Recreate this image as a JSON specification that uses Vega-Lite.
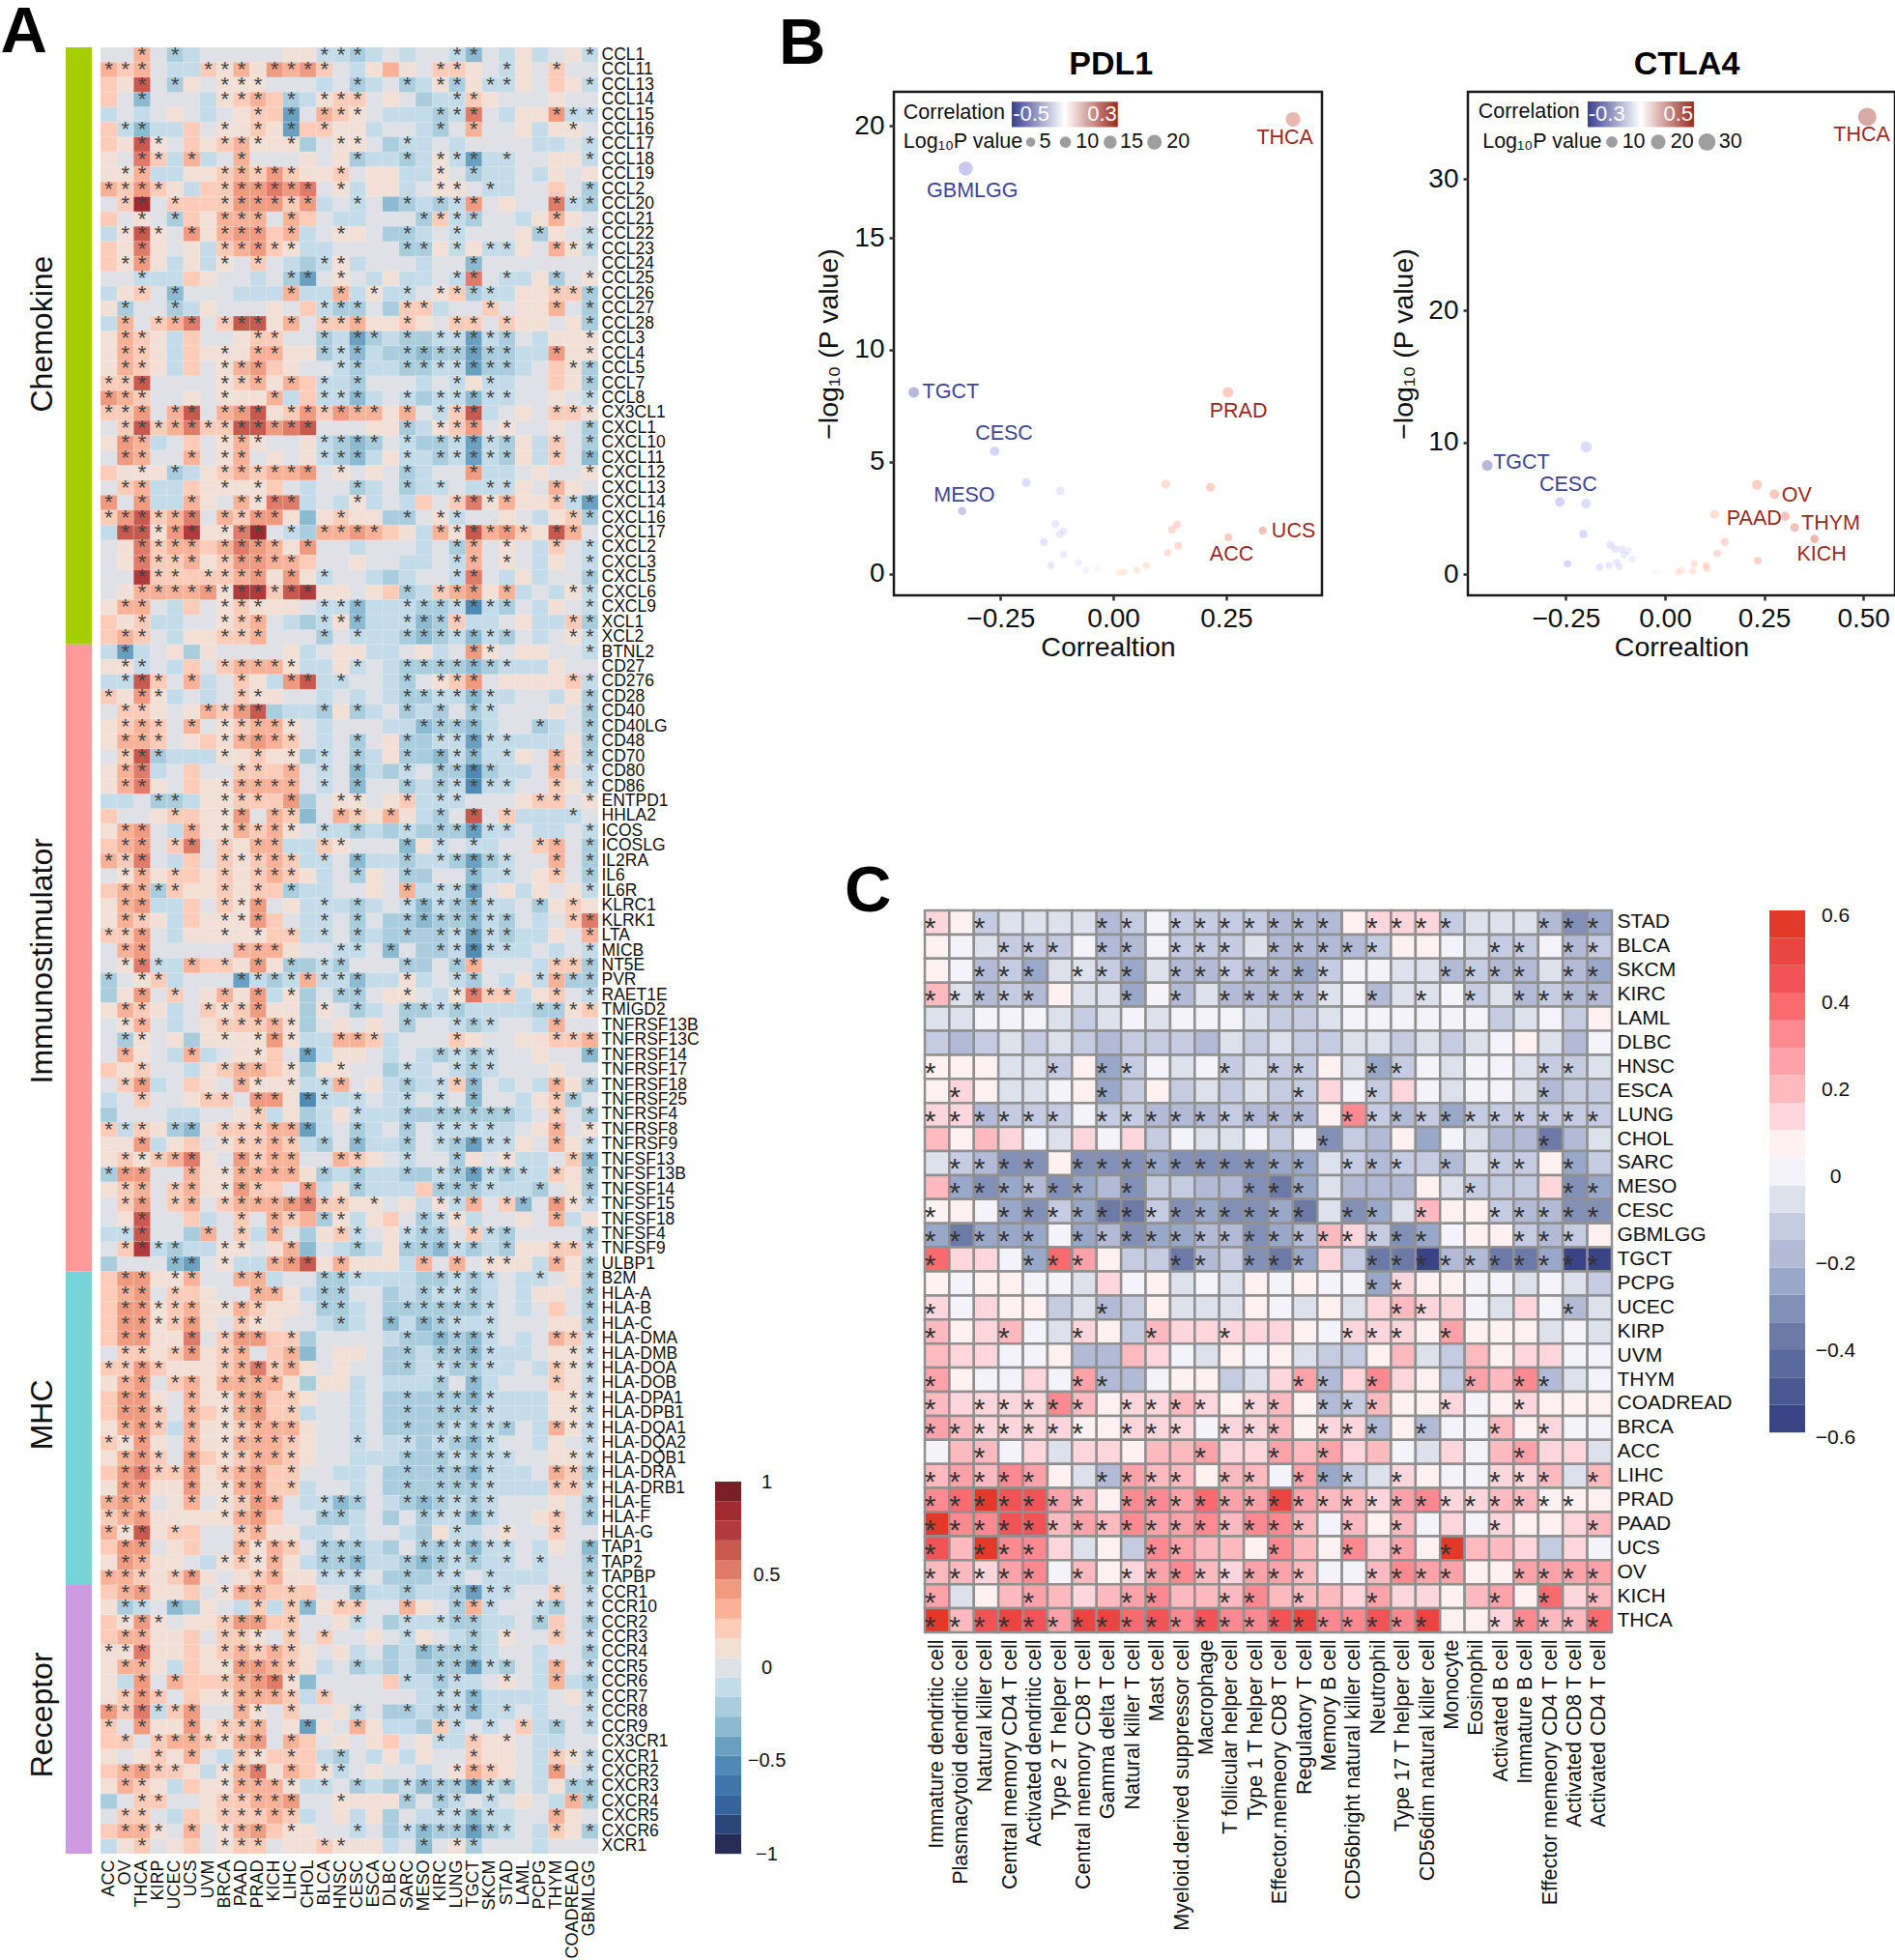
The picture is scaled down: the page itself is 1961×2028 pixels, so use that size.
{"$schema":"https://vega.github.io/schema/vega-lite/v6.json","padding":0,"background":"white","config":{"font":"Liberation Sans","view":{"stroke":null},"concat":{"spacing":0}},
"datasets":{
"ak":[{"k":"a","n":"ACC"},{"k":"b","n":"OV"},{"k":"c","n":"THCA"},{"k":"d","n":"KIRP"},{"k":"e","n":"UCEC"},{"k":"f","n":"UCS"},{"k":"g","n":"UVM"},{"k":"h","n":"BRCA"},{"k":"i","n":"PAAD"},{"k":"j","n":"PRAD"},{"k":"k","n":"KICH"},{"k":"l","n":"LIHC"},{"k":"m","n":"CHOL"},{"k":"n","n":"BLCA"},{"k":"o","n":"HNSC"},{"k":"p","n":"CESC"},{"k":"q","n":"ESCA"},{"k":"r","n":"DLBC"},{"k":"s","n":"SARC"},{"k":"t","n":"MESO"},{"k":"u","n":"KIRC"},{"k":"v","n":"LUNG"},{"k":"w","n":"TGCT"},{"k":"x","n":"SKCM"},{"k":"y","n":"STAD"},{"k":"z","n":"LAML"},{"k":"A","n":"PCPG"},{"k":"B","n":"THYM"},{"k":"C","n":"COADREAD"},{"k":"D","n":"GBMLGG"}],
"am":[
{"gene":"CCL1","c":31,"e":-21,"f":-10,"l":10,"m":10,"n":-11,"o":-11,"p":-21,"q":-10,"s":-10,"v":-11,"w":-31,"y":-10,"z":10,"A":-10,"C":10,"D":-11},
{"gene":"CCL11","a":31,"b":21,"c":31,"e":-10,"f":-10,"g":21,"h":11,"i":31,"j":10,"k":41,"l":31,"m":41,"n":21,"p":-10,"q":10,"r":30,"s":10,"u":21,"v":21,"w":10,"y":-11,"z":10,"B":21},
{"gene":"CCL13","a":20,"b":10,"c":61,"e":-21,"f":10,"h":11,"i":11,"j":11,"n":-10,"p":-21,"q":-10,"s":-21,"t":-10,"u":11,"v":-21,"w":10,"x":-11,"y":-11,"z":10,"B":20,"C":10,"D":-11},
{"gene":"CCL14","a":20,"c":-31,"g":-10,"h":11,"i":21,"j":31,"k":20,"l":-21,"m":-10,"n":11,"o":21,"p":21,"r":10,"t":-20,"u":-10,"v":-11,"w":21,"x":10,"B":10},
{"gene":"CCL15","a":-10,"c":-10,"e":10,"g":-10,"i":10,"j":21,"k":20,"l":-41,"n":31,"o":21,"p":11,"r":-10,"s":-10,"t":-10,"u":-21,"v":-11,"w":51,"y":-10,"z":10,"A":10,"B":41,"C":-11,"D":-11},
{"gene":"CCL16","a":20,"b":-11,"c":-31,"d":-10,"e":-10,"f":20,"h":11,"i":10,"j":21,"k":10,"l":-41,"m":20,"n":21,"o":10,"p":10,"q":-10,"t":-10,"u":-21,"w":31,"z":10,"A":-10,"B":10,"C":11},
{"gene":"CCL17","a":20,"b":10,"c":61,"d":11,"f":20,"g":10,"h":21,"i":31,"j":11,"k":10,"l":11,"m":-20,"o":11,"p":11,"r":-20,"s":-11,"t":-10,"v":-10,"A":-10,"B":-10,"D":-11},
{"gene":"CCL18","a":10,"c":51,"d":21,"e":-10,"f":31,"g":-10,"i":31,"m":10,"o":10,"p":-21,"q":-10,"r":-10,"s":-21,"t":-10,"u":11,"v":-11,"w":-41,"x":-10,"y":-11,"B":10,"C":10,"D":-11},
{"gene":"CCL19","a":10,"b":11,"c":31,"d":-10,"e":-10,"f":10,"g":10,"h":21,"i":31,"j":21,"k":41,"l":21,"m":10,"n":10,"o":21,"q":10,"r":10,"s":-10,"t":-10,"u":11,"w":-21,"x":-10,"y":-10,"A":-10,"B":10,"D":10},
{"gene":"CCL2","a":31,"b":21,"c":41,"d":21,"e":10,"f":-10,"g":20,"h":21,"i":41,"j":41,"k":51,"l":41,"m":51,"o":11,"p":-10,"q":10,"r":10,"s":-10,"u":11,"v":11,"x":-11,"y":-10,"B":20,"D":-21},
{"gene":"CCL20","b":21,"c":81,"e":21,"f":20,"g":20,"h":21,"i":41,"j":41,"k":41,"l":21,"m":41,"n":-10,"p":-11,"r":-30,"s":-21,"t":-10,"u":-21,"v":-11,"w":41,"y":10,"B":51,"C":-11,"D":-21},
{"gene":"CCL21","a":20,"c":11,"e":-21,"f":20,"g":10,"h":31,"i":31,"j":31,"l":31,"m":20,"o":-10,"p":-10,"t":-21,"u":21,"v":-11,"w":-21,"z":-10,"A":10,"B":31,"C":10},
{"gene":"CCL22","a":-10,"b":11,"c":61,"d":11,"f":41,"g":10,"h":31,"i":41,"j":41,"k":20,"l":31,"m":-10,"o":11,"p":10,"r":-20,"s":-21,"t":-10,"v":-11,"z":10,"A":-21,"B":10,"D":-11},
{"gene":"CCL23","a":20,"b":10,"c":51,"d":10,"f":10,"g":-10,"h":21,"i":31,"j":41,"k":21,"l":11,"m":-10,"n":-10,"s":-21,"t":-21,"u":10,"v":-11,"w":10,"x":-11,"y":-11,"z":10,"B":31,"C":11,"D":-11},
{"gene":"CCL24","a":20,"b":11,"c":41,"d":10,"e":-10,"f":10,"g":-10,"h":11,"j":21,"l":-10,"m":-20,"n":-11,"o":11,"p":-10,"t":-10,"w":-31},
{"gene":"CCL25","c":-11,"d":-10,"e":-10,"f":20,"g":10,"j":-10,"l":-21,"m":-41,"o":11,"q":-10,"r":10,"s":-10,"t":-10,"v":-11,"w":51,"y":-11,"z":-10,"A":10,"B":-21,"D":11},
{"gene":"CCL26","a":-10,"b":10,"c":21,"e":-31,"i":-10,"j":-10,"k":-10,"l":31,"m":-10,"n":-10,"o":31,"p":-10,"q":11,"r":-10,"s":-11,"u":11,"v":21,"w":-21,"x":-11,"y":-10,"z":10,"A":10,"B":21,"C":21,"D":-21},
{"gene":"CCL27","a":10,"b":-21,"e":-21,"f":-10,"g":10,"k":10,"m":20,"n":-11,"o":-21,"p":-21,"r":-20,"s":21,"t":21,"u":-10,"x":21,"z":10,"A":10,"B":31,"D":-21},
{"gene":"CCL28","a":-10,"b":31,"d":21,"e":31,"f":51,"h":21,"i":61,"j":61,"k":10,"l":31,"n":21,"o":21,"p":31,"q":10,"r":10,"s":21,"t":10,"v":21,"w":21,"y":21,"z":10,"A":10,"C":10,"D":-21},
{"gene":"CCL3","a":10,"b":31,"c":21,"d":10,"e":-10,"f":20,"i":10,"j":21,"k":21,"n":-21,"o":-10,"p":-41,"q":-21,"r":-10,"s":-21,"t":-20,"u":-11,"v":-11,"w":-41,"x":-11,"y":-21,"A":-10,"B":10,"C":10,"D":11},
{"gene":"CCL4","a":10,"b":31,"c":21,"d":10,"e":-10,"f":20,"g":10,"h":11,"i":10,"j":31,"k":31,"l":10,"m":10,"n":-21,"o":-11,"p":-31,"q":-10,"r":-20,"s":-21,"t":-31,"u":-21,"v":-21,"w":-41,"x":-21,"y":-21,"z":-10,"A":-10,"B":41,"C":10,"D":11},
{"gene":"CCL5","a":10,"b":31,"c":21,"d":10,"e":-10,"f":20,"h":11,"i":31,"j":41,"k":20,"l":10,"o":-11,"p":-21,"q":-10,"r":-10,"s":-21,"t":-21,"u":-11,"v":-11,"w":-41,"x":-21,"y":-21,"z":-10,"B":20,"C":11,"D":-21},
{"gene":"CCL7","a":21,"b":21,"c":61,"h":11,"i":21,"j":31,"k":10,"l":31,"m":20,"n":-11,"o":-10,"p":-21,"t":-10,"v":-11,"w":10,"x":-11,"y":-10,"B":20,"C":10,"D":-21},
{"gene":"CCL8","a":41,"b":31,"c":21,"f":10,"h":11,"i":10,"j":10,"k":31,"l":-10,"m":20,"n":-11,"o":-11,"p":-31,"q":-10,"s":-11,"t":-20,"u":-11,"v":-11,"w":-31,"x":-11,"y":-11,"B":10,"D":-11},
{"gene":"CX3CL1","a":21,"b":21,"c":41,"e":31,"f":61,"h":31,"i":41,"j":61,"k":10,"l":21,"m":41,"n":21,"o":41,"p":31,"q":31,"r":10,"s":31,"u":-11,"v":21,"w":61,"x":-10,"z":10,"B":21,"C":21,"D":11},
{"gene":"CXCL1","b":21,"c":61,"d":21,"e":31,"f":51,"g":21,"h":21,"i":61,"j":61,"k":41,"l":51,"m":61,"q":10,"r":10,"s":-21,"t":-10,"u":11,"v":21,"w":41,"y":11,"B":10,"D":-21},
{"gene":"CXCL10","a":10,"b":41,"c":31,"d":-10,"f":20,"h":11,"i":31,"j":11,"m":10,"n":-11,"o":-21,"p":-31,"q":-21,"s":-11,"t":-20,"u":-21,"v":-11,"w":-41,"x":-11,"y":-21,"z":10,"A":-10,"B":21,"D":-21},
{"gene":"CXCL11","b":41,"c":31,"f":31,"h":11,"i":31,"k":10,"m":10,"n":-11,"o":-21,"p":-31,"q":-10,"r":10,"s":-11,"t":-10,"u":-21,"v":-11,"w":-41,"x":-11,"y":-21,"z":10,"A":-10,"B":21,"D":-31},
{"gene":"CXCL12","a":20,"b":10,"c":11,"d":10,"e":-21,"f":-10,"g":10,"h":21,"i":31,"j":21,"k":31,"l":31,"m":41,"o":11,"q":10,"s":-21,"t":-10,"w":41,"x":-10,"y":-10,"A":10,"D":11},
{"gene":"CXCL13","b":21,"c":31,"d":-10,"e":-10,"f":20,"g":10,"h":11,"i":10,"j":11,"k":20,"m":-10,"p":-21,"q":-10,"s":-21,"t":-10,"u":-11,"w":-10,"x":-11,"y":-11,"z":10,"B":31,"C":10},
{"gene":"CXCL14","a":41,"c":41,"d":-10,"e":-10,"f":31,"g":10,"i":31,"j":11,"k":51,"l":51,"m":-10,"o":-10,"p":11,"q":-10,"s":-10,"t":20,"v":21,"w":51,"x":11,"y":31,"z":10,"A":10,"B":21,"C":-11,"D":-41},
{"gene":"CXCL16","a":21,"b":41,"c":61,"d":21,"e":31,"f":51,"h":31,"i":21,"j":41,"k":41,"l":10,"m":-30,"n":10,"o":21,"p":10,"q":10,"r":-20,"s":-21,"u":11,"v":-11,"y":10,"A":-10,"B":10,"C":21,"D":-21},
{"gene":"CXCL17","a":-10,"b":61,"c":61,"d":11,"e":41,"f":71,"g":10,"h":11,"i":51,"j":81,"l":-11,"m":-20,"n":31,"o":31,"p":41,"q":31,"r":20,"s":10,"t":-10,"u":31,"v":11,"w":61,"x":31,"y":41,"z":21,"A":10,"B":61,"C":31},
{"gene":"CXCL2","b":10,"c":51,"d":21,"e":31,"f":31,"g":20,"h":31,"i":51,"j":41,"k":31,"l":10,"m":41,"p":-10,"t":-10,"v":-21,"w":31,"y":11,"A":-10,"B":21,"D":-11},
{"gene":"CXCL3","b":10,"c":51,"d":21,"e":21,"f":31,"g":10,"h":21,"i":41,"j":41,"k":31,"l":31,"m":20,"p":10,"s":-10,"t":-10,"v":-11,"w":31,"y":11,"A":-10,"B":10,"D":-11},
{"gene":"CXCL5","c":71,"d":21,"e":21,"f":20,"g":21,"h":21,"i":31,"j":41,"k":10,"l":41,"m":10,"n":-11,"q":-10,"r":-20,"s":-10,"v":-11,"w":51,"y":-10,"z":10,"A":-10,"D":-21},
{"gene":"CXCL6","b":10,"c":31,"d":31,"e":31,"f":31,"g":41,"h":11,"i":71,"j":71,"k":21,"l":61,"m":71,"n":10,"o":10,"q":10,"r":20,"s":-21,"t":-10,"u":21,"v":31,"w":41,"x":10,"y":31,"z":-10,"B":-10,"C":11,"D":-11},
{"gene":"CXCL9","a":10,"b":31,"c":31,"e":-10,"f":20,"h":11,"i":21,"j":11,"k":10,"l":10,"n":-11,"o":-11,"p":-31,"q":-10,"r":-10,"s":-11,"t":-21,"u":-21,"v":-11,"w":-51,"x":-11,"y":-21,"A":-10,"B":10,"D":-11},
{"gene":"XCL1","a":20,"b":10,"c":21,"d":-10,"e":-10,"h":11,"i":21,"j":31,"l":-10,"m":-20,"n":-11,"o":11,"p":-31,"q":-10,"r":-10,"s":-11,"t":-31,"u":-21,"v":21,"w":-10,"x":-10,"z":10,"A":-10,"B":-10,"C":21,"D":-21},
{"gene":"XCL2","a":20,"b":31,"c":21,"e":-10,"f":10,"g":10,"h":21,"i":21,"j":31,"n":-21,"p":-11,"q":-10,"r":-10,"s":-21,"t":-31,"u":-21,"v":-11,"w":-31,"x":-11,"y":-21,"A":-10,"C":11,"D":-11},
{"gene":"BTNL2","a":-10,"b":-41,"c":-10,"e":10,"f":-20,"g":10,"l":10,"m":-10,"o":10,"p":10,"q":-10,"r":-10,"t":10,"u":-10,"w":41,"x":11,"z":10,"A":10,"D":-11},
{"gene":"CD27","a":10,"b":11,"c":-11,"e":-10,"f":20,"h":21,"i":31,"j":31,"k":31,"l":11,"m":-10,"n":-10,"o":10,"p":-11,"r":-10,"s":-21,"t":-21,"u":-21,"v":-21,"w":-31,"x":-21,"y":-11,"z":-10,"A":-10,"B":10},
{"gene":"CD276","a":-10,"b":-11,"c":61,"d":21,"f":31,"g":-10,"i":21,"j":10,"k":-10,"l":41,"m":61,"n":-10,"o":-11,"r":-10,"s":-21,"u":11,"v":21,"w":41,"y":10,"z":10,"A":10,"B":10,"C":21,"D":-11},
{"gene":"CD28","a":21,"b":10,"c":41,"d":11,"e":-10,"g":-10,"i":21,"j":11,"k":10,"n":-10,"p":-10,"r":-10,"s":-21,"t":-21,"u":-11,"v":-11,"w":-31,"x":-11,"y":-10,"B":-10,"C":10,"D":-21},
{"gene":"CD40","b":21,"c":21,"d":10,"f":10,"g":31,"h":21,"i":41,"j":61,"k":-20,"l":-10,"m":-10,"n":-21,"o":10,"p":-21,"q":-10,"s":-21,"t":-10,"u":-21,"w":-21,"x":-11,"B":10,"D":-21},
{"gene":"CD40LG","a":10,"b":21,"c":31,"d":21,"f":31,"h":11,"i":21,"j":31,"k":31,"l":11,"n":-10,"r":-10,"s":-10,"t":-31,"u":-21,"v":-21,"w":-31,"x":-10,"A":-21,"B":-10,"D":-21},
{"gene":"CD48","a":10,"b":31,"c":31,"d":21,"f":10,"g":20,"h":11,"i":31,"j":41,"k":31,"l":21,"n":-10,"p":-21,"r":10,"s":-21,"t":-20,"u":-11,"v":-11,"w":-41,"x":-11,"y":-11,"z":-10,"A":-10,"B":-10,"C":10,"D":-21},
{"gene":"CD70","b":21,"c":61,"d":-21,"e":-10,"f":-10,"g":-10,"h":11,"i":10,"j":21,"k":10,"l":11,"m":-20,"n":-11,"p":-21,"q":-10,"r":10,"s":-21,"t":-20,"u":-31,"v":-11,"w":-31,"x":-10,"y":-11,"z":10,"B":31,"C":10,"D":-21},
{"gene":"CD80","a":10,"b":31,"c":51,"d":-10,"f":20,"i":21,"j":21,"k":20,"l":31,"n":-11,"p":-31,"q":-10,"r":-20,"s":-11,"u":-21,"v":-21,"w":-51,"x":-21,"y":-10,"z":-10,"B":31,"D":-11},
{"gene":"CD86","a":10,"b":31,"c":51,"d":10,"f":20,"g":10,"h":11,"i":31,"j":31,"k":31,"l":31,"n":-11,"p":-31,"s":-21,"t":-10,"u":-21,"v":-11,"w":-51,"x":-11,"y":-11,"B":21,"C":10,"D":-11},
{"gene":"ENTPD1","a":-10,"b":-10,"d":-21,"e":-21,"f":-10,"g":10,"h":11,"i":21,"j":21,"k":20,"l":41,"m":-20,"o":11,"p":11,"r":10,"s":21,"t":-10,"u":-11,"v":-11,"z":10,"A":21,"B":21,"D":11},
{"gene":"HHLA2","a":20,"d":10,"e":21,"f":20,"g":10,"h":11,"i":41,"k":31,"l":21,"m":-30,"o":31,"p":21,"q":10,"r":31,"s":10,"t":-10,"u":-21,"w":61,"y":21,"z":-10,"A":-10,"B":-10,"C":-11},
{"gene":"ICOS","a":10,"b":31,"c":41,"e":-10,"f":31,"g":10,"h":11,"i":31,"j":21,"k":31,"l":11,"n":-11,"o":-10,"p":-21,"q":-10,"r":-20,"s":-11,"t":-20,"u":-21,"v":-21,"w":-41,"x":-11,"y":-11,"A":-10,"B":-10,"D":-11},
{"gene":"ICOSLG","a":20,"b":31,"c":41,"e":21,"f":51,"h":21,"i":10,"j":31,"k":31,"l":-10,"m":-10,"n":21,"o":11,"s":-31,"t":10,"u":-11,"w":-11,"x":-10,"A":21,"B":31,"D":-21},
{"gene":"IL2RA","a":31,"b":21,"c":51,"e":-10,"f":20,"h":21,"i":11,"j":21,"k":31,"l":21,"m":-10,"n":-11,"p":-31,"q":-10,"r":-10,"s":-21,"t":-10,"u":-11,"v":-21,"w":-41,"x":-21,"y":-11,"B":31,"D":-21},
{"gene":"IL6","b":11,"c":31,"d":10,"e":21,"f":20,"g":10,"h":21,"i":10,"j":21,"k":31,"l":21,"m":10,"n":-10,"p":-21,"q":10,"s":-21,"t":-20,"w":-31,"x":-10,"y":-11,"A":10,"B":21,"D":-21},
{"gene":"IL6R","a":20,"b":31,"c":31,"d":-21,"e":21,"f":10,"g":10,"h":21,"i":10,"j":21,"k":20,"l":-21,"m":-10,"n":-10,"q":10,"s":31,"t":-10,"u":-11,"v":-11,"w":-41,"y":10,"z":-10,"A":10,"C":10,"D":-11},
{"gene":"KLRC1","a":10,"b":31,"c":41,"d":-10,"e":-10,"f":20,"h":21,"i":11,"j":41,"l":10,"m":-10,"n":-11,"o":-10,"p":-21,"q":-10,"s":-11,"t":-31,"u":-11,"v":-21,"w":-31,"x":-11,"y":-10,"A":-21,"B":10,"C":21,"D":10},
{"gene":"KLRK1","a":10,"b":31,"c":21,"d":10,"e":-10,"f":20,"g":10,"h":11,"i":11,"j":41,"k":20,"m":-10,"n":-11,"p":-21,"r":-20,"s":-21,"t":-31,"u":-21,"v":-21,"w":-31,"x":-11,"y":-21,"A":-10,"C":21,"D":51},
{"gene":"LTA","a":21,"b":21,"c":41,"e":-10,"f":10,"g":10,"h":11,"i":10,"j":11,"k":20,"l":21,"m":-10,"n":-11,"p":-21,"q":-10,"r":-20,"s":-21,"t":-20,"u":-21,"v":-11,"w":-41,"x":-11,"y":-21,"z":-10,"A":-10,"B":10,"D":31},
{"gene":"MICB","b":31,"c":41,"i":31,"j":31,"k":31,"l":10,"o":-11,"p":-11,"r":-31,"t":-20,"u":-21,"v":-11,"w":-51,"x":-11,"y":-11,"z":-10,"B":-10,"D":-11},
{"gene":"NT5E","b":11,"c":51,"d":-11,"e":-10,"f":31,"g":20,"h":21,"i":10,"j":41,"k":10,"l":-21,"m":-20,"n":-11,"o":-21,"s":-21,"t":-20,"v":-21,"w":31,"A":-10,"B":21,"C":21,"D":-21},
{"gene":"PVR","a":-21,"c":11,"d":21,"e":-10,"i":-41,"j":-11,"k":-21,"l":-11,"m":31,"n":-11,"o":-11,"p":-31,"q":-10,"r":-10,"s":11,"t":-10,"v":-11,"w":-21,"y":-10,"z":10,"A":-11,"B":31,"C":-21,"D":-21},
{"gene":"RAET1E","a":-20,"b":10,"c":41,"e":21,"g":10,"h":31,"i":10,"j":41,"k":-10,"l":11,"m":-20,"o":-21,"p":-21,"r":10,"s":11,"u":-10,"v":11,"w":51,"x":21,"y":21,"z":-10,"A":10,"B":21,"D":-11},
{"gene":"TMIGD2","a":10,"b":31,"c":21,"d":10,"e":-10,"g":21,"h":11,"i":21,"j":41,"k":10,"l":10,"m":-20,"n":11,"p":-21,"q":-10,"s":-21,"t":-21,"u":-11,"v":-21,"w":-10,"x":-10,"y":-10,"z":-10,"A":-21,"B":-21,"C":11,"D":21},
{"gene":"TNFRSF13B","b":11,"c":31,"e":-10,"g":10,"h":21,"i":21,"j":21,"k":31,"l":11,"m":-20,"o":10,"q":10,"s":-21,"v":-11,"w":-21,"x":-11,"A":-10,"B":31},
{"gene":"TNFRSF13C","b":-21,"c":11,"e":10,"f":-20,"g":10,"h":11,"i":10,"j":11,"k":41,"l":11,"m":-10,"n":-10,"o":31,"p":31,"q":21,"r":-10,"v":21,"w":10,"z":10,"A":10,"B":21,"C":21,"D":31},
{"gene":"TNFRSF14","b":31,"c":10,"e":-10,"f":31,"g":-10,"i":10,"j":11,"k":20,"m":-41,"n":-10,"o":10,"p":10,"r":-10,"t":-10,"u":-21,"v":-11,"w":-21,"x":-11,"A":10,"D":-31},
{"gene":"TNFRSF17","a":20,"b":10,"c":21,"f":-10,"g":10,"h":21,"i":31,"j":31,"k":20,"l":11,"m":-20,"n":10,"o":11,"r":-20,"s":-11,"t":-10,"v":-11,"w":-21,"x":-11,"B":10},
{"gene":"TNFRSF18","b":21,"c":41,"d":-10,"f":20,"g":10,"i":31,"j":11,"k":10,"l":11,"m":-10,"n":-11,"o":31,"q":10,"r":-10,"s":-21,"t":-10,"u":-11,"v":21,"w":-31,"y":-10,"A":-10,"B":31,"C":10,"D":-21},
{"gene":"TNFRSF25","a":-10,"c":21,"f":10,"g":21,"h":21,"j":41,"k":41,"l":10,"m":-51,"n":-11,"o":-10,"p":-11,"r":-10,"s":-11,"u":-11,"w":-31,"z":-10,"A":10,"B":21,"C":-21},
{"gene":"TNFRSF4","a":-20,"e":-10,"f":-10,"i":10,"j":21,"k":-10,"l":10,"m":-20,"n":-10,"o":10,"p":-11,"q":-10,"r":-10,"s":-21,"t":-20,"u":-21,"v":-21,"w":-21,"x":-21,"y":-21,"z":-10,"B":21,"D":-21},
{"gene":"TNFRSF8","a":21,"b":-11,"c":21,"d":10,"e":-21,"f":-31,"g":10,"h":21,"i":21,"j":21,"k":31,"l":31,"m":-41,"n":-10,"p":-21,"q":-10,"s":-21,"u":-11,"v":-11,"w":-11,"x":-11,"y":-10,"A":10,"B":31,"D":11},
{"gene":"TNFRSF9","a":10,"b":10,"c":41,"d":-10,"e":10,"f":20,"h":11,"i":21,"j":21,"k":31,"l":21,"m":-10,"n":-21,"p":-31,"q":-10,"r":-10,"s":-21,"u":-11,"v":-21,"w":-41,"x":-11,"y":-11,"z":10,"B":31,"C":10,"D":-11},
{"gene":"TNFSF13","a":10,"b":21,"c":11,"d":21,"e":31,"f":51,"g":10,"i":41,"j":21,"k":31,"l":31,"o":31,"p":21,"q":10,"s":-11,"v":-21,"w":10,"y":11,"z":-10,"A":-10,"C":21,"D":-31},
{"gene":"TNFSF13B","a":-21,"b":41,"c":41,"f":31,"g":10,"h":11,"i":31,"j":31,"k":31,"l":31,"m":10,"n":-21,"o":-10,"p":-21,"q":-10,"r":-10,"s":-21,"t":-20,"u":-11,"v":-21,"w":-41,"x":-11,"y":-21,"z":-11,"A":-10,"B":21,"C":10,"D":-21},
{"gene":"TNFSF14","a":10,"b":21,"c":31,"e":21,"f":31,"g":10,"h":11,"i":41,"j":21,"k":20,"m":41,"n":-10,"o":10,"p":-21,"q":-10,"r":-10,"s":-10,"t":20,"u":-21,"v":-21,"w":-21,"x":-11,"y":-10,"z":-10,"A":-21,"C":10,"D":-21},
{"gene":"TNFSF15","b":21,"c":41,"e":21,"f":31,"h":21,"i":31,"j":31,"k":31,"l":41,"m":51,"n":21,"o":21,"p":10,"q":11,"s":10,"t":-10,"u":11,"v":-11,"w":31,"y":21,"z":-31,"B":41,"C":11,"D":-11},
{"gene":"TNFSF18","b":10,"c":61,"f":20,"g":-10,"i":21,"k":31,"l":21,"m":30,"n":-21,"o":11,"p":-10,"q":10,"r":20,"t":-21,"u":-11,"v":11,"w":-10,"z":10,"B":31,"C":-10,"D":10},
{"gene":"TNFSF4","a":-10,"b":-11,"c":61,"f":-20,"g":31,"i":21,"j":-10,"k":31,"m":-20,"n":10,"o":21,"p":-11,"r":10,"s":-11,"t":-21,"u":-21,"w":21,"x":-11,"y":-21,"D":-21},
{"gene":"TNFSF9","b":21,"c":71,"d":-11,"e":-21,"f":-10,"g":-10,"h":11,"i":11,"k":10,"l":31,"m":-30,"o":-10,"p":-21,"q":-10,"r":10,"s":-21,"t":-21,"u":-31,"v":-11,"w":-21,"x":-10,"y":-21,"z":10,"A":10,"B":21,"C":21,"D":-11},
{"gene":"ULBP1","a":-20,"e":-31,"f":-41,"h":11,"i":-10,"j":-10,"k":31,"l":41,"m":61,"n":10,"o":31,"p":10,"q":10,"r":10,"s":-10,"t":31,"v":31,"x":11,"y":11,"z":10,"A":-10,"B":31,"C":10,"D":-21},
{"gene":"B2M","a":20,"b":41,"c":41,"d":10,"e":11,"f":31,"i":31,"j":31,"k":-10,"n":-21,"o":-21,"p":-11,"q":-10,"r":-10,"s":-10,"t":-20,"u":-21,"v":-11,"w":-21,"x":-11,"z":-10,"A":-11,"C":10,"D":-21},
{"gene":"HLA-A","a":20,"b":31,"c":41,"e":21,"f":20,"g":10,"j":31,"k":31,"l":10,"m":-10,"n":-21,"o":-21,"r":-20,"s":-10,"t":-21,"u":-11,"v":-11,"w":-21,"x":-10,"z":-10,"A":10,"B":10,"D":-21},
{"gene":"HLA-B","a":20,"b":41,"c":41,"d":11,"e":21,"f":31,"g":10,"h":11,"i":31,"j":21,"k":10,"l":10,"n":-21,"o":-21,"p":-10,"r":-20,"s":-21,"t":-21,"u":-21,"v":-21,"w":-21,"x":-11,"z":-10,"B":20,"D":-21},
{"gene":"HLA-C","a":20,"b":41,"c":41,"d":11,"e":21,"f":41,"g":10,"i":21,"j":11,"k":10,"n":-10,"o":-21,"p":-10,"r":-31,"s":-10,"t":-31,"u":-21,"v":-11,"w":-10,"x":-11,"B":10,"C":10,"D":-21},
{"gene":"HLA-DMA","a":20,"b":41,"c":41,"d":10,"e":10,"f":51,"h":21,"i":41,"j":41,"k":20,"l":21,"m":-20,"r":-10,"s":-21,"t":-20,"u":-31,"v":-21,"w":-31,"x":-11,"z":-10,"B":31,"C":21,"D":-11},
{"gene":"HLA-DMB","b":21,"c":21,"d":10,"e":21,"f":41,"g":10,"h":21,"i":31,"k":20,"l":31,"m":-30,"o":10,"p":10,"r":-20,"s":-21,"t":-10,"u":-21,"v":-21,"w":-31,"x":-11,"y":-10,"z":-10,"B":10,"C":11,"D":-11},
{"gene":"HLA-DOA","a":21,"b":21,"c":41,"d":21,"e":10,"f":10,"g":10,"h":21,"i":31,"j":51,"k":21,"l":31,"m":10,"o":10,"r":-20,"s":-21,"t":-10,"u":-11,"v":-21,"w":-21,"x":-11,"y":-10,"A":-10,"B":21,"C":11,"D":-11},
{"gene":"HLA-DOB","a":10,"b":31,"c":41,"e":21,"f":31,"g":10,"h":31,"i":31,"j":31,"k":31,"l":10,"m":-20,"n":10,"o":10,"p":-10,"r":-10,"s":-10,"t":-10,"u":-21,"w":-31,"x":-10,"B":21,"C":10,"D":-11},
{"gene":"HLA-DPA1","a":20,"b":41,"c":41,"d":10,"f":31,"g":10,"h":11,"i":31,"j":41,"k":20,"l":21,"m":10,"p":-10,"r":-20,"s":-21,"t":-20,"u":-21,"v":-21,"w":-31,"x":-11,"y":-10,"z":-10,"A":-10,"B":10,"C":11,"D":-11},
{"gene":"HLA-DPB1","a":20,"b":41,"c":41,"d":21,"f":31,"g":20,"h":11,"i":31,"j":41,"k":20,"l":21,"m":-10,"p":-10,"r":-20,"s":-21,"t":-20,"u":-21,"v":-21,"w":-21,"x":-11,"y":-10,"z":-10,"A":-10,"B":10,"C":11,"D":-11},
{"gene":"HLA-DQA1","a":10,"b":31,"c":41,"d":21,"e":-10,"f":31,"g":10,"h":11,"i":21,"j":31,"k":31,"l":31,"m":10,"p":-10,"r":-20,"s":-21,"t":-20,"u":-21,"v":-11,"w":-21,"x":-11,"y":-21,"A":-10,"B":31,"C":11,"D":-11},
{"gene":"HLA-DQA2","a":21,"b":11,"c":41,"d":10,"f":31,"g":10,"h":11,"i":31,"j":31,"k":31,"l":21,"m":10,"p":-11,"r":-10,"s":-11,"t":-20,"u":-11,"v":-21,"w":-31,"x":-11,"A":-10,"B":10,"D":-11},
{"gene":"HLA-DQB1","a":10,"b":31,"c":41,"d":21,"f":41,"g":20,"h":11,"i":21,"j":31,"k":31,"l":21,"m":10,"p":-10,"q":-10,"r":-10,"s":-21,"t":-20,"u":-21,"v":-11,"w":-21,"x":-11,"y":-11,"B":10,"C":11,"D":-11},
{"gene":"HLA-DRA","a":20,"b":41,"c":51,"d":21,"e":21,"f":41,"g":10,"h":21,"i":31,"j":41,"k":20,"l":21,"o":-10,"p":-10,"r":-20,"s":-21,"t":-20,"u":-21,"v":-21,"w":-31,"x":-11,"y":-10,"z":-10,"B":31,"C":21,"D":-21},
{"gene":"HLA-DRB1","a":10,"b":41,"c":41,"d":10,"e":10,"f":41,"g":10,"h":11,"i":31,"j":41,"k":20,"l":21,"m":-10,"p":-10,"r":-20,"s":-21,"t":-20,"u":-21,"v":-21,"w":-21,"x":-11,"y":-10,"z":-10,"A":-10,"B":21,"C":21,"D":-11},
{"gene":"HLA-E","a":31,"b":41,"c":31,"e":10,"f":31,"h":11,"i":21,"j":41,"k":31,"m":-10,"n":-11,"o":-31,"p":-21,"r":-10,"s":-21,"t":-31,"u":-21,"v":-11,"w":-21,"x":-11,"B":10,"D":-21},
{"gene":"HLA-F","a":21,"b":31,"c":41,"d":10,"e":10,"f":10,"g":10,"h":11,"i":31,"j":41,"k":20,"n":-21,"o":-21,"p":-10,"r":-20,"t":-21,"u":-11,"v":-11,"w":-31,"x":-11,"A":10,"B":21,"D":-21},
{"gene":"HLA-G","a":31,"b":11,"c":61,"d":10,"e":21,"f":20,"i":21,"j":31,"k":10,"l":10,"m":-10,"n":-10,"p":-10,"s":-10,"t":-20,"u":10,"v":-11,"w":-10,"y":11,"B":21},
{"gene":"TAP1","a":20,"b":41,"c":41,"e":10,"f":20,"i":31,"j":11,"k":31,"l":21,"n":-21,"o":-21,"p":-21,"q":-10,"r":-20,"t":-21,"u":-21,"v":-11,"w":-31,"x":-11,"y":-11,"A":-10,"B":10,"D":-31},
{"gene":"TAP2","a":10,"b":41,"c":31,"d":10,"e":10,"g":-10,"h":11,"i":21,"j":11,"k":31,"l":10,"m":-10,"n":-21,"o":-21,"p":-31,"q":-10,"r":-10,"s":-21,"t":-31,"u":-21,"v":-11,"w":-21,"x":-10,"y":-11,"A":-11,"D":-21},
{"gene":"TAPBP","a":31,"b":31,"c":21,"d":10,"e":21,"f":41,"g":10,"i":10,"j":21,"k":31,"l":10,"m":10,"n":-11,"o":-11,"p":-11,"r":-20,"s":-21,"t":-20,"u":-11,"v":-11,"x":-11,"y":-10,"z":-10,"A":-10,"D":-21},
{"gene":"CCR1","a":20,"b":31,"c":41,"d":10,"e":10,"f":20,"h":11,"i":31,"j":31,"k":20,"l":21,"m":20,"p":-31,"q":-10,"r":-10,"s":-21,"t":-10,"u":-10,"v":-21,"w":-41,"x":-11,"y":-11,"B":21,"D":-11},
{"gene":"CCR10","a":10,"b":-21,"c":-11,"e":-31,"f":-20,"g":10,"i":-10,"j":21,"k":-10,"l":21,"m":-31,"n":10,"o":21,"p":21,"s":31,"t":10,"v":-21,"w":31,"x":-11,"A":-11,"B":-21,"D":-11},
{"gene":"CCR2","a":20,"b":11,"c":41,"d":11,"f":10,"g":10,"h":21,"i":41,"j":41,"k":20,"l":21,"o":10,"p":-11,"r":-20,"s":-11,"t":-10,"u":-11,"v":-21,"w":-21,"x":-10,"y":-10,"A":-21,"B":20,"D":-21},
{"gene":"CCR3","a":20,"b":31,"c":31,"d":10,"e":10,"f":20,"h":21,"i":21,"j":11,"l":21,"n":21,"q":10,"s":-11,"t":10,"v":-10,"w":-21,"x":-10,"y":11,"B":21,"D":-11},
{"gene":"CCR4","a":11,"b":11,"c":51,"d":10,"e":10,"f":20,"g":10,"h":21,"i":31,"j":21,"k":31,"l":21,"m":10,"o":10,"p":-10,"r":-20,"s":-10,"t":-31,"u":-21,"v":-21,"w":-21,"x":-10,"A":-10,"D":-21},
{"gene":"CCR5","a":10,"b":31,"c":31,"d":10,"e":-10,"f":20,"g":10,"h":11,"i":41,"j":41,"k":31,"l":21,"m":10,"n":-10,"p":-21,"q":-10,"r":-20,"s":-10,"t":-20,"u":-21,"v":-21,"w":-41,"x":-11,"y":-21,"A":-10,"B":31,"D":-11},
{"gene":"CCR6","a":10,"b":-10,"c":41,"e":31,"f":20,"g":20,"h":21,"i":31,"j":41,"k":51,"l":11,"m":-30,"r":20,"s":-11,"t":-10,"u":-21,"v":-11,"w":-10,"y":11,"A":-10,"B":31,"C":-10,"D":-21},
{"gene":"CCR7","a":10,"b":21,"c":41,"d":21,"f":20,"g":10,"h":11,"i":31,"j":31,"k":31,"l":21,"m":-10,"n":21,"t":-10,"u":-11,"v":-11,"w":-31,"x":-10,"y":-10,"z":-10,"A":-10,"C":10,"D":-11},
{"gene":"CCR8","a":41,"b":21,"c":51,"d":-11,"e":21,"f":41,"i":31,"j":11,"l":21,"o":10,"p":-11,"r":-20,"s":-21,"t":-10,"u":-21,"v":-11,"w":-31,"x":-10,"y":-11,"A":-10,"D":-11},
{"gene":"CCR9","a":21,"c":41,"d":10,"e":10,"f":41,"g":10,"h":21,"i":21,"j":31,"l":10,"m":-41,"n":10,"p":31,"q":10,"r":-10,"s":-10,"t":-20,"u":21,"v":-11,"x":-11,"z":21,"A":-10,"B":-21,"D":-11},
{"gene":"CX3CR1","a":20,"b":21,"d":21,"e":31,"f":31,"g":21,"h":11,"i":31,"j":41,"l":31,"m":20,"o":10,"q":10,"r":20,"t":10,"u":-11,"v":-10,"w":21,"x":10,"y":11,"A":-10,"B":-10},
{"gene":"CXCR1","a":10,"c":10,"d":21,"e":10,"f":31,"h":-10,"i":21,"j":11,"k":20,"l":21,"m":20,"n":-10,"o":-21,"q":-10,"r":10,"s":-10,"t":10,"w":21,"x":10,"y":10,"A":-10,"B":21,"C":11,"D":-11},
{"gene":"CXCR2","a":20,"b":31,"c":41,"d":21,"e":21,"f":10,"g":-10,"h":11,"i":31,"j":51,"k":10,"l":31,"m":20,"n":11,"o":-11,"q":10,"t":-10,"v":11,"w":31,"x":21,"y":10,"A":-10,"B":41,"D":-11},
{"gene":"CXCR3","a":10,"b":31,"c":21,"d":10,"e":-10,"f":20,"g":10,"h":11,"i":31,"j":31,"k":31,"l":11,"m":-10,"n":-11,"p":-21,"q":-10,"r":-20,"s":-11,"t":-31,"u":-21,"v":-21,"w":-41,"x":-11,"y":-21,"A":-10,"B":10,"C":-21,"D":-21},
{"gene":"CXCR4","a":-20,"c":21,"d":21,"g":10,"h":21,"i":21,"j":31,"k":31,"l":41,"o":11,"p":10,"q":10,"r":10,"s":-21,"u":-21,"v":-11,"x":-11,"z":10,"B":-10,"C":31,"D":-21},
{"gene":"CXCR5","b":21,"c":21,"e":-10,"f":20,"g":10,"h":21,"i":21,"j":21,"k":31,"l":21,"m":-10,"o":10,"p":-10,"q":10,"r":-20,"t":-10,"u":-11,"v":-11,"w":-31,"x":-11,"y":-10,"B":31,"C":10},
{"gene":"CXCR6","a":20,"b":31,"c":31,"d":11,"f":31,"h":11,"i":31,"j":41,"k":20,"l":11,"m":10,"p":-11,"r":-20,"s":-11,"t":-31,"u":-21,"v":-21,"w":-41,"x":-21,"y":-11,"A":-10,"B":21,"C":10,"D":-21},
{"gene":"XCR1","a":-10,"b":10,"c":21,"e":10,"f":20,"h":11,"i":21,"j":21,"l":10,"m":10,"n":21,"o":11,"p":10,"q":10,"r":-10,"t":-31,"v":11,"w":-21,"A":-10}
],
"bins":[{"v":-95,"lo":-1,"hi":-0.895},{"v":-84,"lo":-0.895,"hi":-0.789},{"v":-74,"lo":-0.789,"hi":-0.684},{"v":-63,"lo":-0.684,"hi":-0.579},{"v":-53,"lo":-0.579,"hi":-0.474},{"v":-42,"lo":-0.474,"hi":-0.368},{"v":-32,"lo":-0.368,"hi":-0.263},{"v":-21,"lo":-0.263,"hi":-0.158},{"v":-11,"lo":-0.158,"hi":-0.053},{"v":0,"lo":-0.053,"hi":0.053},{"v":11,"lo":0.053,"hi":0.158},{"v":21,"lo":0.158,"hi":0.263},{"v":32,"lo":0.263,"hi":0.368},{"v":42,"lo":0.368,"hi":0.474},{"v":53,"lo":0.474,"hi":0.579},{"v":63,"lo":0.579,"hi":0.684},{"v":74,"lo":0.684,"hi":0.789},{"v":84,"lo":0.789,"hi":0.895},{"v":95,"lo":0.895,"hi":1}],
"cbins":[{"v":-57,"lo":-0.6,"hi":-0.537},{"v":-51,"lo":-0.537,"hi":-0.474},{"v":-44,"lo":-0.474,"hi":-0.411},{"v":-38,"lo":-0.411,"hi":-0.347},{"v":-32,"lo":-0.347,"hi":-0.284},{"v":-25,"lo":-0.284,"hi":-0.221},{"v":-19,"lo":-0.221,"hi":-0.158},{"v":-13,"lo":-0.158,"hi":-0.095},{"v":-6,"lo":-0.095,"hi":-0.032},{"v":0,"lo":-0.032,"hi":0.032},{"v":6,"lo":0.032,"hi":0.095},{"v":13,"lo":0.095,"hi":0.158},{"v":19,"lo":0.158,"hi":0.221},{"v":25,"lo":0.221,"hi":0.284},{"v":32,"lo":0.284,"hi":0.347},{"v":38,"lo":0.347,"hi":0.411},{"v":44,"lo":0.411,"hi":0.474},{"v":51,"lo":0.474,"hi":0.537},{"v":57,"lo":0.537,"hi":0.6}],
"ck":[{"k":"a","n":"Immature dendritic cell"},{"k":"b","n":"Plasmacytoid dendritic cell"},{"k":"c","n":"Natural killer cell"},{"k":"d","n":"Central memory CD4 T cell"},{"k":"e","n":"Activated dendritic cell"},{"k":"f","n":"Type 2 T helper cell"},{"k":"g","n":"Central memory CD8 T cell"},{"k":"h","n":"Gamma delta T cell"},{"k":"i","n":"Natural killer T cell"},{"k":"j","n":"Mast cell"},{"k":"k","n":"Myeloid.derived suppressor cell"},{"k":"l","n":"Macrophage"},{"k":"m","n":"T follicular helper cell"},{"k":"n","n":"Type 1 T helper cell"},{"k":"o","n":"Effector.memeory CD8 T cell"},{"k":"p","n":"Regulatory T cell"},{"k":"q","n":"Memory B cell"},{"k":"rr","n":"CD56bright natural killer cell"},{"k":"s","n":"Neutrophil"},{"k":"t","n":"Type 17 T helper cell"},{"k":"u","n":"CD56dim natural killer cell"},{"k":"v","n":"Monocyte"},{"k":"w","n":"Eosinophil"},{"k":"x","n":"Activated B cell"},{"k":"y","n":"Immature B cell"},{"k":"z","n":"Effector memeory CD4 T cell"},{"k":"A","n":"Activated CD8 T cell"},{"k":"B","n":"Activated CD4 T cell"}],
"cm":[
{"r":"STAD","a":13,"b":6,"c":-13,"d":-6,"e":-6,"f":-6,"g":-6,"h":-19,"i":-13,"j":0,"k":-13,"l":-13,"m":-13,"n":-13,"o":-19,"p":-19,"q":-19,"rr":6,"s":13,"t":13,"u":13,"v":-13,"w":-6,"x":-6,"y":-6,"z":-19,"A":-33,"B":-25},
{"r":"BLCA","a":6,"b":0,"c":-6,"d":-13,"e":-13,"f":-13,"g":0,"h":-19,"i":-19,"j":0,"k":-13,"l":-13,"m":-13,"n":-6,"o":-19,"p":-19,"q":-19,"rr":-19,"s":-13,"t":6,"u":6,"v":0,"w":-6,"x":-13,"y":-13,"z":0,"A":-19,"B":-13},
{"r":"SKCM","a":6,"b":0,"c":-19,"d":-13,"e":-25,"f":-6,"g":-7,"h":-13,"i":-25,"j":-6,"k":-19,"l":-19,"m":-13,"n":-19,"o":-19,"p":-25,"q":-13,"rr":0,"s":0,"t":-6,"u":-6,"v":-19,"w":-13,"x":-19,"y":-19,"z":-6,"A":-19,"B":-25},
{"r":"KIRC","a":19,"b":-7,"c":-19,"d":-13,"e":-19,"f":6,"g":-6,"h":-6,"i":-25,"j":0,"k":-19,"l":-6,"m":-19,"n":-19,"o":-19,"p":-19,"q":-7,"rr":0,"s":-19,"t":-6,"u":-7,"v":0,"w":-13,"x":-6,"y":-19,"z":-13,"A":-19,"B":-19},
{"r":"LAML","a":-6,"b":-6,"c":0,"d":0,"e":0,"f":-6,"g":-12,"h":-6,"i":0,"j":-6,"k":0,"l":0,"m":0,"n":-6,"o":-12,"p":-12,"q":-6,"rr":0,"s":0,"t":0,"u":0,"v":0,"w":0,"x":-12,"y":-6,"z":0,"A":-12,"B":6},
{"r":"DLBC","a":-12,"b":-18,"c":-12,"d":-6,"e":-12,"f":-6,"g":-12,"h":-18,"i":-12,"j":-12,"k":-12,"l":-18,"m":-6,"n":-12,"o":-6,"p":-12,"q":-12,"rr":-6,"s":-6,"t":-12,"u":-6,"v":-12,"w":-6,"x":0,"y":6,"z":-6,"A":-18,"B":0},
{"r":"HNSC","a":7,"b":6,"c":6,"d":-6,"e":-6,"f":-13,"g":6,"h":-25,"i":-13,"j":0,"k":-6,"l":0,"m":-13,"n":-6,"o":-13,"p":-13,"q":6,"rr":-6,"s":-25,"t":-13,"u":0,"v":-6,"w":0,"x":0,"y":-6,"z":-13,"A":-13,"B":-6},
{"r":"ESCA","a":6,"b":13,"c":6,"d":-6,"e":-6,"f":0,"g":6,"h":-25,"i":-12,"j":6,"k":-12,"l":-6,"m":-12,"n":-6,"o":-12,"p":-13,"q":12,"rr":0,"s":-13,"t":12,"u":0,"v":-6,"w":0,"x":0,"y":-6,"z":-19,"A":-12,"B":-12},
{"r":"LUNG","a":13,"b":13,"c":-19,"d":-13,"e":-13,"f":-13,"g":0,"h":-13,"i":-13,"j":-19,"k":-19,"l":-19,"m":-13,"n":-19,"o":-19,"p":-19,"q":6,"rr":33,"s":-13,"t":-19,"u":-13,"v":-25,"w":-13,"x":-13,"y":-13,"z":-13,"A":-13,"B":-13},
{"r":"CHOL","a":18,"b":6,"c":18,"d":12,"e":0,"f":-6,"g":12,"h":0,"i":12,"j":-12,"k":0,"l":-6,"m":-6,"n":0,"o":-12,"p":0,"q":-33,"rr":-12,"s":-18,"t":6,"u":-24,"v":0,"w":-6,"x":-18,"y":-18,"z":-39,"A":-18,"B":-6},
{"r":"SARC","a":-6,"b":-13,"c":-19,"d":-33,"e":-33,"f":6,"g":-33,"h":-33,"i":-33,"j":-25,"k":-33,"l":-33,"m":-33,"n":-33,"o":-25,"p":-25,"q":-6,"rr":-13,"s":-19,"t":-13,"u":-12,"v":-19,"w":-6,"x":-13,"y":-13,"z":6,"A":-25,"B":-12},
{"r":"MESO","a":18,"b":-25,"c":-33,"d":-25,"e":-19,"f":-33,"g":-25,"h":-18,"i":-33,"j":-12,"k":-12,"l":-18,"m":-18,"n":-33,"o":-39,"p":-25,"q":-6,"rr":-18,"s":-18,"t":-18,"u":6,"v":-6,"w":-13,"x":-12,"y":-12,"z":12,"A":-33,"B":-25},
{"r":"CESC","a":7,"b":6,"c":0,"d":-25,"e":-33,"f":-13,"g":-25,"h":-39,"i":-39,"j":-13,"k":-33,"l":-25,"m":-33,"n":-33,"o":-25,"p":-39,"q":-6,"rr":-33,"s":-25,"t":-6,"u":19,"v":6,"w":6,"x":-13,"y":-19,"z":-19,"A":-33,"B":-33},
{"r":"GBMLGG","a":-25,"b":-39,"c":-25,"d":-25,"e":-25,"f":0,"g":-25,"h":-19,"i":-33,"j":-25,"k":-25,"l":-19,"m":-19,"n":-33,"o":-25,"p":-19,"q":19,"rr":13,"s":-13,"t":-33,"u":-25,"v":0,"w":6,"x":6,"y":-13,"z":-19,"A":-13,"B":6},
{"r":"TGCT","a":39,"b":12,"c":12,"d":0,"e":-25,"f":39,"g":25,"h":6,"i":-12,"j":-12,"k":-39,"l":-19,"m":-12,"n":-33,"o":-39,"p":-25,"q":12,"rr":-12,"s":-39,"t":-39,"u":-57,"v":-19,"w":-19,"x":-39,"y":-39,"z":-25,"A":-57,"B":-57},
{"r":"PCPG","a":6,"b":0,"c":6,"d":6,"e":0,"f":0,"g":-6,"h":12,"i":0,"j":6,"k":-6,"l":0,"m":-6,"n":6,"o":0,"p":6,"q":0,"rr":0,"s":-25,"t":13,"u":6,"v":6,"w":0,"x":0,"y":-6,"z":0,"A":-6,"B":-12},
{"r":"UCEC","a":13,"b":0,"c":12,"d":6,"e":6,"f":-12,"g":-6,"h":-19,"i":-12,"j":6,"k":-6,"l":-6,"m":-6,"n":6,"o":0,"p":-6,"q":6,"rr":-6,"s":12,"t":19,"u":13,"v":12,"w":0,"x":-6,"y":12,"z":0,"A":-19,"B":-6},
{"r":"KIRP","a":19,"b":6,"c":12,"d":19,"e":0,"f":-6,"g":13,"h":6,"i":-12,"j":19,"k":12,"l":12,"m":13,"n":12,"o":12,"p":6,"q":0,"rr":13,"s":13,"t":13,"u":6,"v":25,"w":6,"x":6,"y":6,"z":-6,"A":0,"B":-6},
{"r":"UVM","a":18,"b":12,"c":12,"d":0,"e":0,"f":6,"g":-18,"h":-18,"i":18,"j":12,"k":0,"l":-6,"m":6,"n":0,"o":6,"p":-6,"q":-12,"rr":-12,"s":6,"t":18,"u":-6,"v":-12,"w":18,"x":6,"y":12,"z":12,"A":0,"B":0},
{"r":"THYM","a":25,"b":6,"c":0,"d":0,"e":12,"f":0,"g":25,"h":-19,"i":-18,"j":0,"k":6,"l":6,"m":-12,"n":-6,"o":12,"p":25,"q":-19,"rr":12,"s":33,"t":12,"u":6,"v":-12,"w":25,"x":18,"y":33,"z":-19,"A":-6,"B":0},
{"r":"COADREAD","a":19,"b":12,"c":13,"d":13,"e":13,"f":33,"g":19,"h":6,"i":13,"j":13,"k":19,"l":13,"m":6,"n":13,"o":19,"p":6,"q":-19,"rr":-13,"s":19,"t":6,"u":6,"v":13,"w":0,"x":6,"y":13,"z":6,"A":6,"B":6},
{"r":"BRCA","a":25,"b":19,"c":13,"d":13,"e":13,"f":13,"g":7,"h":6,"i":13,"j":13,"k":13,"l":0,"m":13,"n":13,"o":19,"p":6,"q":13,"rr":13,"s":-19,"t":6,"u":-19,"v":0,"w":0,"x":19,"y":6,"z":13,"A":0,"B":0},
{"r":"ACC","a":0,"b":18,"c":19,"d":0,"e":12,"f":-6,"g":12,"h":12,"i":6,"j":18,"k":18,"l":25,"m":12,"n":12,"o":25,"p":18,"q":25,"rr":12,"s":18,"t":0,"u":-6,"v":12,"w":0,"x":18,"y":25,"z":12,"A":12,"B":-6},
{"r":"LIHC","a":19,"b":25,"c":19,"d":33,"e":25,"f":6,"g":-6,"h":-19,"i":25,"j":19,"k":19,"l":6,"m":19,"n":19,"o":0,"p":25,"q":-25,"rr":-13,"s":-6,"t":13,"u":6,"v":0,"w":0,"x":13,"y":13,"z":19,"A":-6,"B":19},
{"r":"PRAD","a":33,"b":39,"c":57,"d":45,"e":45,"f":25,"g":19,"h":6,"i":33,"j":33,"k":25,"l":39,"m":25,"n":25,"o":51,"p":25,"q":19,"rr":19,"s":13,"t":25,"u":33,"v":13,"w":13,"x":19,"y":19,"z":7,"A":7,"B":6},
{"r":"PAAD","a":57,"b":33,"c":33,"d":45,"e":45,"f":19,"g":25,"h":19,"i":33,"j":25,"k":25,"l":33,"m":19,"n":33,"o":33,"p":19,"q":0,"rr":19,"s":6,"t":19,"u":0,"v":12,"w":0,"x":13,"y":6,"z":6,"A":12,"B":19},
{"r":"UCS","a":45,"b":18,"c":57,"d":33,"e":33,"f":12,"g":-6,"h":6,"i":-12,"j":33,"k":25,"l":18,"m":18,"n":6,"o":33,"p":18,"q":6,"rr":33,"s":12,"t":25,"u":6,"v":57,"w":18,"x":18,"y":12,"z":-12,"A":12,"B":0},
{"r":"OV","a":19,"b":19,"c":13,"d":25,"e":33,"f":0,"g":19,"h":6,"i":13,"j":25,"k":33,"l":19,"m":13,"n":25,"o":25,"p":19,"q":0,"rr":0,"s":19,"t":33,"u":25,"v":25,"w":6,"x":6,"y":25,"z":25,"A":25,"B":25},
{"r":"KICH","a":25,"b":-6,"c":6,"d":18,"e":25,"f":18,"g":12,"h":18,"i":25,"j":33,"k":18,"l":18,"m":19,"n":33,"o":18,"p":19,"q":18,"rr":12,"s":25,"t":12,"u":12,"v":6,"w":18,"x":25,"y":6,"z":39,"A":12,"B":19},
{"r":"THCA","a":57,"b":19,"c":45,"d":51,"e":45,"f":25,"g":51,"h":51,"i":39,"j":45,"k":33,"l":45,"m":33,"n":33,"o":45,"p":51,"q":33,"rr":33,"s":45,"t":33,"u":51,"v":6,"w":6,"x":13,"y":33,"z":19,"A":19,"B":39}
],
"pd":[{"r":0.398,"p":20.3},{"r":-0.327,"p":18.1},{"r":-0.442,"p":8.1},{"r":-0.263,"p":5.47},{"r":-0.335,"p":2.8},{"r":0.254,"p":8.1},{"r":0.331,"p":1.92},{"r":0.255,"p":1.62},{"r":0.215,"p":3.86},{"r":0.116,"p":4.0},{"r":0.141,"p":2.2},{"r":0.13,"p":1.97},{"r":0.144,"p":1.25},{"r":0.12,"p":0.93},{"r":0.073,"p":0.37},{"r":0.053,"p":0.16},{"r":0.024,"p":0.07},{"r":0.013,"p":0.05},{"r":-0.035,"p":0.23},{"r":-0.061,"p":0.16},{"r":-0.077,"p":0.49},{"r":-0.11,"p":0.85},{"r":-0.138,"p":0.37},{"r":-0.154,"p":1.41},{"r":-0.119,"p":1.75},{"r":-0.11,"p":1.9},{"r":-0.128,"p":2.22},{"r":-0.117,"p":3.7},{"r":-0.193,"p":4.07}],
"pl":[{"n":"THCA","r":0.38,"p":19.45},{"n":"GBMLGG","r":-0.312,"p":17.07},{"n":"TGCT","r":-0.36,"p":8.08},{"n":"CESC","r":-0.242,"p":6.23},{"n":"MESO","r":-0.33,"p":3.49},{"n":"PRAD","r":0.277,"p":7.23},{"n":"UCS","r":0.399,"p":1.87},{"n":"ACC","r":0.262,"p":0.83}],
"ct":[{"r":0.51,"p":34.7},{"r":-0.448,"p":8.26},{"r":-0.265,"p":5.48},{"r":-0.199,"p":9.67},{"r":-0.199,"p":5.36},{"r":-0.206,"p":3.05},{"r":-0.246,"p":0.81},{"r":-0.138,"p":2.25},{"r":-0.126,"p":1.92},{"r":-0.109,"p":1.89},{"r":-0.093,"p":1.77},{"r":-0.103,"p":1.5},{"r":-0.083,"p":1.17},{"r":-0.122,"p":0.9},{"r":-0.115,"p":0.57},{"r":-0.141,"p":0.69},{"r":-0.165,"p":0.54},{"r":-0.024,"p":0.18},{"r":0.033,"p":0.18},{"r":0.042,"p":0.3},{"r":0.07,"p":0.24},{"r":0.074,"p":0.81},{"r":0.103,"p":0.69},{"r":0.105,"p":0.45},{"r":0.132,"p":1.59},{"r":0.151,"p":2.46},{"r":0.125,"p":4.55},{"r":0.232,"p":6.8},{"r":0.276,"p":6.08},{"r":0.303,"p":4.4},{"r":0.327,"p":3.56},{"r":0.377,"p":2.69},{"r":0.234,"p":1.05}],
"cl":[{"n":"THCA","r":0.496,"p":33.3},{"n":"TGCT","r":-0.362,"p":8.47},{"n":"CESC","r":-0.244,"p":6.74},{"n":"OV","r":0.332,"p":5.99},{"n":"PAAD","r":0.225,"p":4.19},{"n":"THYM","r":0.418,"p":3.8},{"n":"KICH","r":0.395,"p":1.5}]
},
"hconcat":[
{"hconcat":[
{"hconcat":[
{"width":27,"height":1869,"data":{"values":[{"t":"Chemokine","s":0,"e":40,"m":19.2},{"t":"Immunostimulator","s":40,"e":82,"m":61.2},{"t":"MHC","s":82,"e":103,"m":91.6},{"t":"Receptor","s":103,"e":121,"m":111.7}]},
"layer":[
{"mark":{"type":"rect"},"encoding":{"x":{"datum":0,"type":"quantitative","scale":{"domain":[0,1]},"axis":null},"x2":{"datum":1},"y":{"field":"s","type":"quantitative","scale":{"domain":[0,121],"reverse":true,"nice":false,"zero":false},"axis":null},"y2":{"field":"e"},"color":{"field":"t","type":"nominal","legend":null,"scale":{"domain":["Chemokine","Immunostimulator","MHC","Receptor"],"range":["#a5ce00","#ff9999","#74d4d8","#cf9be0"]}}}},
{"mark":{"type":"text","angle":270,"fontSize":32,"align":"center","baseline":"middle","color":"#111"},"encoding":{"x":{"datum":-0.9,"type":"quantitative"},"y":{"field":"m","type":"quantitative"},"text":{"field":"t"}}},
{"data":{"values":[{"t":"A","x":-1.6,"y":-0.97}]},"mark":{"type":"text","fontSize":67,"fontWeight":"bold","align":"center","baseline":"middle","color":"#000"},"encoding":{"x":{"field":"x","type":"quantitative"},"y":{"field":"y","type":"quantitative"},"text":{"field":"t"}}}
]},
{"width":515,"height":1869,"data":{"name":"am"},"view":{"fill":"#dfe1e6"},
"transform":[{"fold":["a","b","c","d","e","f","g","h","i","j","k","l","m","n","o","p","q","r","s","t","u","v","w","x","y","z","A","B","C","D"],"as":["k","v"]},{"filter":"isNumber(datum.v)"},{"lookup":"k","from":{"data":{"name":"ak"},"key":"k","fields":["n"]}}],
"encoding":{"x":{"field":"n","type":"nominal","scale":{"domain":["ACC","OV","THCA","KIRP","UCEC","UCS","UVM","BRCA","PAAD","PRAD","KICH","LIHC","CHOL","BLCA","HNSC","CESC","ESCA","DLBC","SARC","MESO","KIRC","LUNG","TGCT","SKCM","STAD","LAML","PCPG","THYM","COADREAD","GBMLGG"],"paddingInner":0,"paddingOuter":0},"axis":{"title":null,"orient":"bottom","domain":false,"ticks":false,"labelAngle":270,"labelAlign":"right","labelBaseline":"middle","labelFontSize":18,"labelPadding":6,"labelColor":"#111"}},
"y":{"field":"gene","type":"nominal","scale":{"domain":["CCL1","CCL11","CCL13","CCL14","CCL15","CCL16","CCL17","CCL18","CCL19","CCL2","CCL20","CCL21","CCL22","CCL23","CCL24","CCL25","CCL26","CCL27","CCL28","CCL3","CCL4","CCL5","CCL7","CCL8","CX3CL1","CXCL1","CXCL10","CXCL11","CXCL12","CXCL13","CXCL14","CXCL16","CXCL17","CXCL2","CXCL3","CXCL5","CXCL6","CXCL9","XCL1","XCL2","BTNL2","CD27","CD276","CD28","CD40","CD40LG","CD48","CD70","CD80","CD86","ENTPD1","HHLA2","ICOS","ICOSLG","IL2RA","IL6","IL6R","KLRC1","KLRK1","LTA","MICB","NT5E","PVR","RAET1E","TMIGD2","TNFRSF13B","TNFRSF13C","TNFRSF14","TNFRSF17","TNFRSF18","TNFRSF25","TNFRSF4","TNFRSF8","TNFRSF9","TNFSF13","TNFSF13B","TNFSF14","TNFSF15","TNFSF18","TNFSF4","TNFSF9","ULBP1","B2M","HLA-A","HLA-B","HLA-C","HLA-DMA","HLA-DMB","HLA-DOA","HLA-DOB","HLA-DPA1","HLA-DPB1","HLA-DQA1","HLA-DQA2","HLA-DQB1","HLA-DRA","HLA-DRB1","HLA-E","HLA-F","HLA-G","TAP1","TAP2","TAPBP","CCR1","CCR10","CCR2","CCR3","CCR4","CCR5","CCR6","CCR7","CCR8","CCR9","CX3CR1","CXCR1","CXCR2","CXCR3","CXCR4","CXCR5","CXCR6","XCR1"],"paddingInner":0,"paddingOuter":0},"axis":{"title":null,"orient":"right","domain":false,"ticks":false,"labelFontSize":17.5,"labelPadding":3,"labelOverlap":false,"labelColor":"#111"}}},
"layer":[
{"mark":{"type":"rect","stroke":"#ffffff","strokeWidth":0.4,"strokeOpacity":0.4},"encoding":{"color":{"field":"v","type":"quantitative","legend":null,"scale":{"type":"quantize","domain":[-100,100],"range":["#272e55","#2b4679","#36639c","#3f76a9","#4f8ab5","#69a0c0","#8cbad0","#a9cddd","#c4dce9","#dfe1e6","#f2dfd5","#fdccb9","#f9b298","#f09a80","#e07a69","#c8594e","#b23a3d","#a02a2e","#7a1f25"]}}}},
{"transform":[{"filter":"abs(datum.v)%2==1"}],"mark":{"type":"text","text":"*","fontSize":22,"baseline":"middle","color":"#444"},"encoding":{}}
]}
],"spacing":8},
{"width":27,"height":1869,"data":{"name":"bins"},"mark":{"type":"rect"},"encoding":{"y":{"field":"lo","type":"quantitative","scale":{"domain":[-1,8.71],"nice":false},"axis":{"title":null,"orient":"right","values":[-1,-0.5,0,0.5,1],"labelExpr":"datum.value==0||abs(datum.value)==1?replace(format(datum.value,'d'),'-','−'):replace(format(datum.value,'.1f'),'-','−')","domain":false,"ticks":false,"labelFontSize":20,"labelPadding":26,"labelAlign":"center","labelColor":"#111"}},"y2":{"field":"hi"},"color":{"field":"v","type":"quantitative","legend":null,"scale":{"type":"quantize","domain":[-100,100],"range":["#272e55","#2b4679","#36639c","#3f76a9","#4f8ab5","#69a0c0","#8cbad0","#a9cddd","#c4dce9","#dfe1e6","#f2dfd5","#fdccb9","#f9b298","#f09a80","#e07a69","#c8594e","#b23a3d","#a02a2e","#7a1f25"]}}}}
],"spacing":16},
{"vconcat":[
{"width":1,"height":1,"data":{"values":[{"a":0}]},"mark":{"type":"rect","opacity":0},"encoding":{"x":{"field":"a","type":"quantitative","axis":null},"y":{"field":"a","type":"quantitative","axis":null}}},
{"vconcat":[
{"hconcat":[
{"width":443,"height":521,"view":{"stroke":"#1a1a1a","strokeWidth":2.5},
"layer":[
{"data":{"name":"pd"},"mark":{"type":"circle","opacity":0.4},"encoding":{
"x":{"field":"r","type":"quantitative","scale":{"domain":[-0.486,0.462],"nice":false,"zero":false},"axis":{"title":"Correaltion","values":[-0.25,0,0.25],"format":".2f","labelExpr":"replace(datum.label,'-','−')","grid":false,"domain":false,"tickColor":"#333","tickWidth":2.5,"tickSize":5,"labelFontSize":28,"titleFontSize":28.5,"titleFontWeight":"normal","labelPadding":5,"titlePadding":1,"labelColor":"#111","titleColor":"#111"}},
"y":{"field":"p","type":"quantitative","scale":{"domain":[-0.97,21.53],"nice":false,"zero":false},"axis":{"title":"−log₁₀ (P value)","values":[0,5,10,15,20],"grid":false,"domain":false,"tickColor":"#333","tickWidth":2.5,"tickSize":5,"labelFontSize":28,"titleFontSize":28.5,"titleFontWeight":"normal","labelPadding":5,"titlePadding":11,"labelColor":"#111","titleColor":"#111"}},
"color":{"field":"r","type":"quantitative","scale":{"domain":[-0.5,0,0.3],"range":["#3a3f8f","#ffffff","#9b2a1e"],"clamp":true},"legend":null},
"size":{"field":"p","type":"quantitative","scale":{"domain":[0,20],"range":[49,361]},"legend":null}}},
{"data":{"values":[{"p":5,"r":-0.183},{"p":10,"r":-0.106},{"p":15,"r":-0.007},{"p":20,"r":0.091}]},"mark":{"type":"circle","color":"#9e9e9e","opacity":1},"encoding":{"x":{"field":"r","type":"quantitative"},"y":{"datum":19.28,"type":"quantitative"},"size":{"field":"p","type":"quantitative"}}},
{"data":{"values":[{"a":-0.225,"b":0.01,"c":21.09,"d":19.95}]},"mark":{"type":"rect","color":{"gradient":"linear","x1":0,"y1":0,"x2":1,"y2":0,"stops":[{"offset":0,"color":"#3a3f8f"},{"offset":0.5,"color":"#ffffff"},{"offset":1,"color":"#9b2a1e"}]}},"encoding":{"x":{"field":"a","type":"quantitative"},"x2":{"field":"b"},"y":{"field":"c","type":"quantitative"},"y2":{"field":"d"}}},
{"data":{"values":[{"t":"Correlation","r":-0.465,"p":20.6},{"t":"Log₁₀P value","r":-0.465,"p":19.28},{"t":"5","r":-0.164,"p":19.28},{"t":"10","r":-0.083,"p":19.28},{"t":"15","r":0.015,"p":19.28},{"t":"20","r":0.118,"p":19.28}]},"mark":{"type":"text","fontSize":21.5,"align":"left","baseline":"middle","color":"#111"},"encoding":{"x":{"field":"r","type":"quantitative"},"y":{"field":"p","type":"quantitative"},"text":{"field":"t"}}},
{"data":{"values":[{"t":"-0.5","r":-0.2225,"p":20.55}]},"mark":{"type":"text","fontSize":22,"align":"left","baseline":"middle","color":"#ffffff"},"encoding":{"x":{"field":"r","type":"quantitative"},"y":{"field":"p","type":"quantitative"},"text":{"field":"t"}}},
{"data":{"values":[{"t":"0.3","r":0.008,"p":20.55}]},"mark":{"type":"text","fontSize":22,"align":"right","baseline":"middle","color":"#ffffff"},"encoding":{"x":{"field":"r","type":"quantitative"},"y":{"field":"p","type":"quantitative"},"text":{"field":"t"}}},
{"data":{"name":"pl"},"mark":{"type":"text","fontSize":21.5,"align":"center","baseline":"middle"},"encoding":{"x":{"field":"r","type":"quantitative"},"y":{"field":"p","type":"quantitative"},"text":{"field":"n"},"color":{"condition":{"test":"datum.r<0","value":"#3d4596"},"value":"#9b2a22"}}},
{"data":{"values":[{"t":"PDL1","r":-0.005,"p":22.73}]},"mark":{"type":"text","fontSize":34,"fontWeight":"bold","align":"center","baseline":"middle","color":"#000"},"encoding":{"x":{"field":"r","type":"quantitative"},"y":{"field":"p","type":"quantitative"},"text":{"field":"t"}}},
{"data":{"values":[{"t":"B","r":-0.689,"p":23.63}]},"mark":{"type":"text","fontSize":67,"fontWeight":"bold","align":"center","baseline":"middle","color":"#000"},"encoding":{"x":{"field":"r","type":"quantitative"},"y":{"field":"p","type":"quantitative"},"text":{"field":"t"}}}
]},
{"width":442,"height":521,"view":{"stroke":"#1a1a1a","strokeWidth":2.5},
"layer":[
{"data":{"name":"ct"},"mark":{"type":"circle","opacity":0.4},"encoding":{
"x":{"field":"r","type":"quantitative","scale":{"domain":[-0.497,0.58],"nice":false,"zero":false},"axis":{"title":"Correaltion","values":[-0.25,0,0.25,0.5],"format":".2f","labelExpr":"replace(datum.label,'-','−')","grid":false,"domain":false,"tickColor":"#333","tickWidth":2.5,"tickSize":5,"labelFontSize":28,"titleFontSize":28.5,"titleFontWeight":"normal","labelPadding":5,"titlePadding":1,"labelColor":"#111","titleColor":"#111"}},
"y":{"field":"p","type":"quantitative","scale":{"domain":[-1.59,36.6],"nice":false,"zero":false},"axis":{"title":"−log₁₀ (P value)","values":[0,10,20,30],"grid":false,"domain":false,"tickColor":"#333","tickWidth":2.5,"tickSize":5,"labelFontSize":28,"titleFontSize":28.5,"titleFontWeight":"normal","labelPadding":5,"titlePadding":10,"labelColor":"#111","titleColor":"#111"}},
"color":{"field":"r","type":"quantitative","scale":{"domain":[-0.3,0,0.5],"range":["#3a3f8f","#ffffff","#9b2a1e"],"clamp":true},"legend":null},
"size":{"field":"p","type":"quantitative","scale":{"domain":[0,35],"range":[60,350]},"legend":null}}},
{"data":{"values":[{"p":10,"r":-0.134},{"p":20,"r":-0.017},{"p":30,"r":0.106}]},"mark":{"type":"circle","color":"#9e9e9e","opacity":1},"encoding":{"x":{"field":"r","type":"quantitative"},"y":{"datum":32.8,"type":"quantitative"},"size":{"field":"p","type":"quantitative"}}},
{"data":{"values":[{"a":-0.195,"b":0.073,"c":35.87,"d":33.92}]},"mark":{"type":"rect","color":{"gradient":"linear","x1":0,"y1":0,"x2":1,"y2":0,"stops":[{"offset":0,"color":"#3a3f8f"},{"offset":0.5,"color":"#ffffff"},{"offset":1,"color":"#9b2a1e"}]}},"encoding":{"x":{"field":"a","type":"quantitative"},"x2":{"field":"b"},"y":{"field":"c","type":"quantitative"},"y2":{"field":"d"}}},
{"data":{"values":[{"t":"Correlation","r":-0.471,"p":35.03},{"t":"Log₁₀P value","r":-0.46,"p":32.8},{"t":"10","r":-0.108,"p":32.8},{"t":"20","r":0.014,"p":32.8},{"t":"30","r":0.136,"p":32.8}]},"mark":{"type":"text","fontSize":21.5,"align":"left","baseline":"middle","color":"#111"},"encoding":{"x":{"field":"r","type":"quantitative"},"y":{"field":"p","type":"quantitative"},"text":{"field":"t"}}},
{"data":{"values":[{"t":"-0.3","r":-0.193,"p":34.95}]},"mark":{"type":"text","fontSize":22,"align":"left","baseline":"middle","color":"#ffffff"},"encoding":{"x":{"field":"r","type":"quantitative"},"y":{"field":"p","type":"quantitative"},"text":{"field":"t"}}},
{"data":{"values":[{"t":"0.5","r":0.071,"p":34.95}]},"mark":{"type":"text","fontSize":22,"align":"right","baseline":"middle","color":"#ffffff"},"encoding":{"x":{"field":"r","type":"quantitative"},"y":{"field":"p","type":"quantitative"},"text":{"field":"t"}}},
{"data":{"name":"cl"},"mark":{"type":"text","fontSize":21.5,"align":"center","baseline":"middle"},"encoding":{"x":{"field":"r","type":"quantitative"},"y":{"field":"p","type":"quantitative"},"text":{"field":"n"},"color":{"condition":{"test":"datum.r<0","value":"#3d4596"},"value":"#9b2a22"}}},
{"data":{"values":[{"t":"CTLA4","r":0.055,"p":38.63}]},"mark":{"type":"text","fontSize":34,"fontWeight":"bold","align":"center","baseline":"middle","color":"#000"},"encoding":{"x":{"field":"r","type":"quantitative"},"y":{"field":"p","type":"quantitative"},"text":{"field":"t"}}}
]}
],"spacing":67},
{"hconcat":[
{"width":1,"height":1,"data":{"values":[{"a":0}]},"mark":{"type":"rect","opacity":0},"encoding":{"x":{"field":"a","type":"quantitative","axis":null},"y":{"field":"a","type":"quantitative","axis":null}}},
{"hconcat":[
{"width":711,"height":747,"data":{"name":"cm"},"title":{"text":"C","anchor":"start","frame":"group","dx":-83,"offset":-16,"fontSize":67,"fontWeight":"bold","color":"#000"},
"transform":[{"fold":["a","b","c","d","e","f","g","h","i","j","k","l","m","n","o","p","q","rr","s","t","u","v","w","x","y","z","A","B"],"as":["k","v"]},{"lookup":"k","from":{"data":{"name":"ck"},"key":"k","fields":["n"]}}],
"encoding":{"x":{"field":"n","type":"nominal","scale":{"domain":["Immature dendritic cell","Plasmacytoid dendritic cell","Natural killer cell","Central memory CD4 T cell","Activated dendritic cell","Type 2 T helper cell","Central memory CD8 T cell","Gamma delta T cell","Natural killer T cell","Mast cell","Myeloid.derived suppressor cell","Macrophage","T follicular helper cell","Type 1 T helper cell","Effector.memeory CD8 T cell","Regulatory T cell","Memory B cell","CD56bright natural killer cell","Neutrophil","Type 17 T helper cell","CD56dim natural killer cell","Monocyte","Eosinophil","Activated B cell","Immature B cell","Effector memeory CD4 T cell","Activated CD8 T cell","Activated CD4 T cell"],"paddingInner":0,"paddingOuter":0},"axis":{"title":null,"domain":false,"ticks":false,"labelAngle":270,"labelAlign":"right","labelBaseline":"middle","labelFontSize":21.5,"labelPadding":7,"labelColor":"#111","labelLimit":400}},
"y":{"field":"r","type":"nominal","scale":{"domain":["STAD","BLCA","SKCM","KIRC","LAML","DLBC","HNSC","ESCA","LUNG","CHOL","SARC","MESO","CESC","GBMLGG","TGCT","PCPG","UCEC","KIRP","UVM","THYM","COADREAD","BRCA","ACC","LIHC","PRAD","PAAD","UCS","OV","KICH","THCA"],"paddingInner":0,"paddingOuter":0},"axis":{"title":null,"orient":"right","domain":false,"ticks":false,"labelFontSize":21,"labelPadding":5,"labelOverlap":false,"labelColor":"#111"}}},
"layer":[
{"mark":{"type":"rect","stroke":"#909090","strokeWidth":2.5},"encoding":{"color":{"field":"v","type":"quantitative","legend":null,"scale":{"type":"quantize","domain":[-60,60],"range":["#3b4387","#495a93","#596a9e","#6d7aa8","#8290b8","#99a7c8","#b2bad6","#c5cce2","#dde1ec","#f3f3f9","#fff0f1","#ffd6dc","#ffbac0","#fea2a9","#fe8990","#fa6b6f","#f15457","#ea4541","#e2392a"]}}}},
{"transform":[{"filter":"abs(datum.v)%2==1"}],"mark":{"type":"text","text":"*","fontSize":30,"baseline":"middle","dx":-7,"dy":7,"color":"#333"},"encoding":{}}
]},
{"width":37,"height":540,"data":{"name":"cbins"},"mark":{"type":"rect"},"encoding":{"y":{"field":"lo","type":"quantitative","scale":{"domain":[-0.6,0.6],"nice":false},"axis":{"title":null,"orient":"right","values":[-0.6,-0.4,-0.2,0,0.2,0.4,0.6],"labelExpr":"datum.value==0?'0':replace(format(datum.value,'.1f'),'-','−')","domain":false,"ticks":false,"labelFontSize":21,"labelPadding":31,"labelAlign":"center","labelOffset":5,"labelColor":"#111"}},"y2":{"field":"hi"},"color":{"field":"v","type":"quantitative","legend":null,"scale":{"type":"quantize","domain":[-60,60],"range":["#3b4387","#495a93","#596a9e","#6d7aa8","#8290b8","#99a7c8","#b2bad6","#c5cce2","#dde1ec","#f3f3f9","#fff0f1","#ffd6dc","#ffbac0","#fea2a9","#fe8990","#fa6b6f","#f15457","#ea4541","#e2392a"]}}}}
],"spacing":38}
],"spacing":-52}
],"spacing":203}
],"spacing":-39}
],"spacing":-9}
